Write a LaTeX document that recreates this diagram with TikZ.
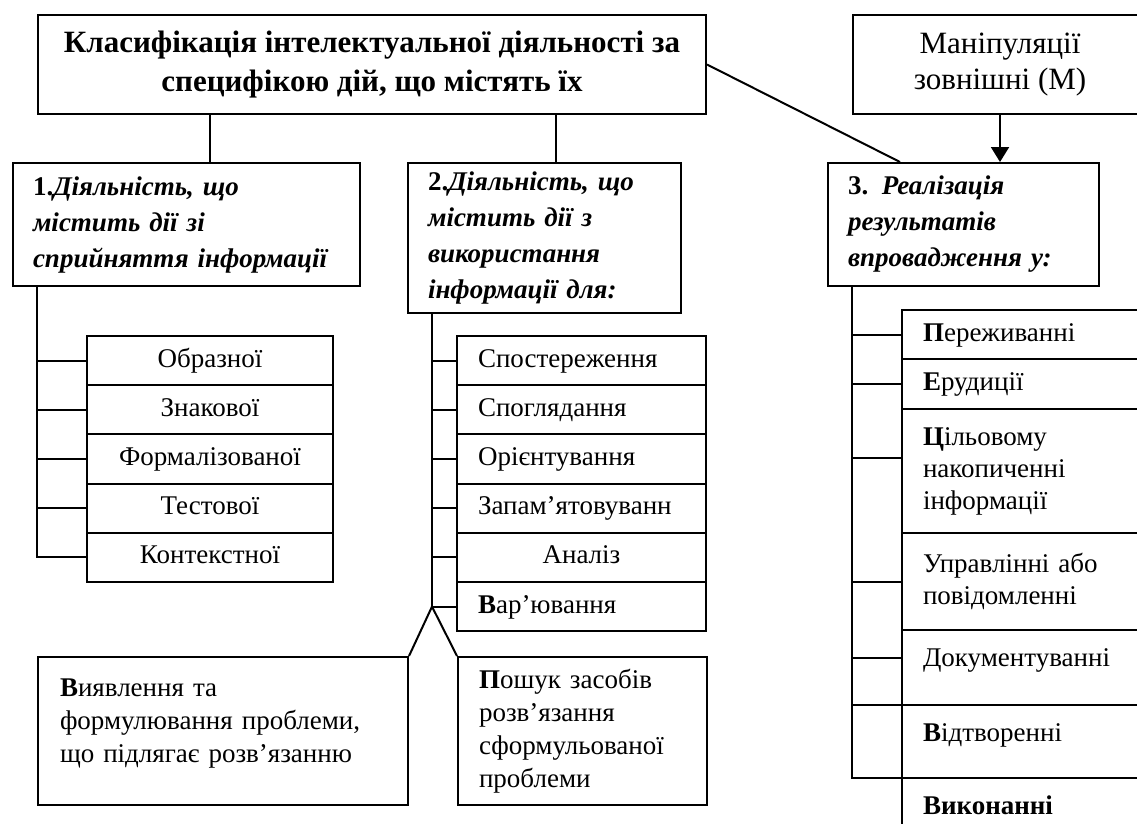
\documentclass[tikz,border=0pt]{standalone}
\usepackage{fontspec}
\setmainfont{Liberation Serif}
\usepackage{tikz}
\usetikzlibrary{arrows.meta,positioning}

\begin{document}
\begin{tikzpicture}[
  x=1pt, y=-1pt, line width=2pt,
  headbox/.style={draw, anchor=north west, align=center, font=\fontsize{31}{36}\selectfont},
  groupbox/.style={draw, anchor=north west, align=left, inner xsep=20pt, font=\fontsize{27}{36}\selectfont\bfseries\itshape},
  textbox/.style={draw, anchor=north west, align=left, inner xsep=21pt, font=\fontsize{27}{33}\selectfont},
  item/.style={draw, outer sep=0pt, inner xsep=21pt, inner ysep=0pt, text height=19pt, text depth=6pt, font=\fontsize{27}{30}\selectfont},
  leftitem/.style={item, minimum width=246pt, minimum height=49.2pt},
  miditem/.style={item, align=left, text width=207pt, minimum height=49.2pt},
  rightitem/.style={item, align=left, text width=218pt},
  rightmulti/.style={draw, outer sep=0pt, inner xsep=21pt, align=left, text width=218pt, font=\fontsize{27}{32}\selectfont},
  arr/.style={-{Triangle[width=18pt,length=15pt]}}
]
\useasboundingbox (0,0) rectangle (1137,823);
\clip (0,0) rectangle (1137,823);

% top row
\node[headbox, font=\bfseries\fontsize{31}{39}\selectfont, minimum width=668pt, minimum height=99pt] (title) at (37,14)
  {Класифікація інтелектуальної діяльності за\\специфікою дій, що містять їх};
\node[headbox, minimum width=294pt, minimum height=99pt] (manip) at (852,14) {Маніпуляції\\зовнішні (М)};

% groups
\node[groupbox, text width=307pt, minimum height=123pt] (act1) at (12,162)
  {{\upshape 1.}Діяльність, що\\містить дії зі\\сприйняття інформації};
\node[groupbox, text width=233pt, minimum height=150pt] (act2) at (407,162)
  {{\upshape 2.}Діяльність, що\\містить дії з\\використання\\інформації для:};
\node[groupbox, text width=231pt, minimum height=123pt] (act3) at (827,162)
  {{\upshape 3.} Реалізація\\результатів\\впровадження у:};

% left list
\node[leftitem, anchor=north west] (obraz) at (87,336) {Образної};
\node[leftitem, below=0pt of obraz] (znak) {Знакової};
\node[leftitem, below=0pt of znak] (formal) {Формалізованої};
\node[leftitem, below=0pt of formal] (test) {Тестової};
\node[leftitem, below=0pt of test] (kontekst) {Контекстної};

% middle list
\node[miditem, anchor=north west] (sposter) at (457,336) {Спостереження};
\node[miditem, below=0pt of sposter] (spohl) {Споглядання};
\node[miditem, below=0pt of spohl] (orient) {Орієнтування};
\node[miditem, below=0pt of orient] (zapam) {Запам’ятовуванн};
\node[miditem, align=center, below=0pt of zapam] (analiz) {Аналіз};
\node[miditem, below=0pt of analiz] (varj) {\textbf{В}ар’ювання};

% bottom boxes
\node[textbox, inner xsep=22pt, text width=326pt, minimum height=148pt, text height=19pt, text depth=89pt] (vyav) at (37,656)
  {\textbf{В}иявлення та\\формулювання проблеми,\\що підлягає розв’язанню};
\node[textbox, text width=207pt, minimum height=148pt, anchor=north west] (poshuk) at (457,656)
  {\textbf{П}ошук засобів\\розв’язання\\сформульованої\\проблеми};

% right list
\node[rightitem, minimum height=49pt, anchor=north west] (perezh) at (902,310) {\textbf{П}ереживанні};
\node[rightitem, minimum height=50pt, below=0pt of perezh] (erud) {\textbf{Е}рудиції};
\node[rightmulti, minimum height=124pt, below=0pt of erud] (tsil) {\textbf{Ц}ільовому\\накопиченні\\інформації};
\node[rightmulti, minimum height=97pt, below=0pt of tsil] (uprav) {Управлінні або\\повідомленні};
\node[rightitem, minimum height=75pt, text depth=22pt, below=0pt of uprav] (dokum) {Документуванні};
\node[rightitem, minimum height=73pt, text depth=20pt, below=0pt of dokum] (vidtv) {\textbf{В}ідтворенні};
\node[rightitem, minimum height=73pt, text depth=20pt, below=0pt of vidtv, font=\bfseries\fontsize{27}{30}\selectfont] (vykon) {Виконанні};

% links from the title
\draw ([xshift=173pt]title.south west) coordinate (t1) -- (t1 |- act1.north);
\draw ([xshift=519pt]title.south west) coordinate (t2) -- (t2 |- act2.north);
\draw (title.east) -- ([xshift=73pt]act3.north west);
\draw[arr] (manip.south) -- (manip.south |- act3.north);

% left spine
\coordinate (spineA) at ([xshift=25pt]act1.south west);
\draw (spineA) |- (kontekst.west);
\draw (obraz.west) -- (obraz.west -| spineA);
\draw (znak.west) -- (znak.west -| spineA);
\draw (formal.west) -- (formal.west -| spineA);
\draw (test.west) -- (test.west -| spineA);

% middle spine
\coordinate (spineB) at ([xshift=25pt]act2.south west);
\draw (spineB) |- (varj.west);
\draw (sposter.west) -- (sposter.west -| spineB);
\draw (spohl.west) -- (spohl.west -| spineB);
\draw (orient.west) -- (orient.west -| spineB);
\draw (zapam.west) -- (zapam.west -| spineB);
\draw (analiz.west) -- (analiz.west -| spineB);
\draw (vyav.north east) -- (varj.west -| spineB) -- (poshuk.north west);

% right spine
\coordinate (spineC) at ([xshift=25pt]act3.south west);
\draw (spineC) |- (vykon.north west);
\draw (perezh.west) -- (perezh.west -| spineC);
\draw (erud.west) -- (erud.west -| spineC);
\draw ([yshift=13pt]tsil.west) coordinate (c3) -- (c3 -| spineC);
\draw (uprav.west) -- (uprav.west -| spineC);
\draw ([yshift=10pt]dokum.west) coordinate (c5) -- (c5 -| spineC);
\draw (vidtv.north west) -- (vidtv.north west -| spineC);
\end{tikzpicture}
\end{document}
